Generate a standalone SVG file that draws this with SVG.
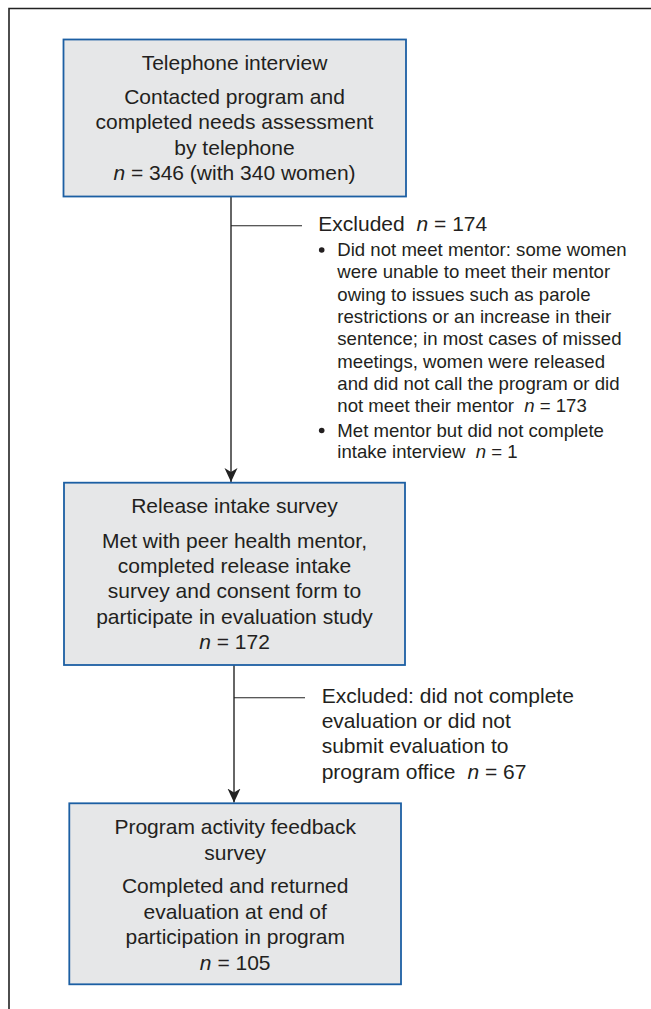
<svg xmlns="http://www.w3.org/2000/svg" width="651" height="1009" viewBox="0 0 651 1009">
<style>
  .box { fill: #e6e7e8; stroke: #1c5fa3; stroke-width: 1.8; }
  .t { font-family: "Liberation Sans", Arial, sans-serif; font-size: 21px; fill: #231f20; }
  .c { text-anchor: middle; }
  .s { font-family: "Liberation Sans", Arial, sans-serif; font-size: 18.6px; fill: #231f20; }
  .i { font-style: italic; }
  .conn { stroke: #333; stroke-width: 1.5; fill: none; }
  .branch { stroke: #222; stroke-width: 1.1; fill: none; }
  .frame { stroke: #222; stroke-width: 1.6; fill: none; }
  .dot { fill: #231f20; }
</style>
<defs>
  <marker id="arrow" markerUnits="userSpaceOnUse" viewBox="0 0 14 14" markerWidth="14" markerHeight="14" refX="14" refY="7" orient="auto">
    <path d="M0,0.5 L14,7 L0,13.5 L4,7 z" fill="#222"/>
  </marker>
</defs>
<rect x="0" y="0" width="651" height="1009" fill="#fff"/>
<path class="frame" d="M9,1009 V8.5 H651"/>

<g id="connectors">
  <line class="conn" x1="231" y1="197" x2="231" y2="482" marker-end="url(#arrow)"/>
  <line class="branch" x1="231" y1="225.7" x2="302" y2="225.7"/>
  <line class="conn" x1="234" y1="665" x2="234" y2="802.5" marker-end="url(#arrow)"/>
  <line class="branch" x1="234" y1="697.7" x2="305" y2="697.7"/>
</g>

<g id="node-telephone">
  <rect class="box" x="63.5" y="39.5" width="342.5" height="157"/>
  <text class="t c" x="234.5" y="70">Telephone interview</text>
  <text class="t c" x="234.5" y="104">Contacted program and</text>
  <text class="t c" x="234.5" y="129.4">completed needs assessment</text>
  <text class="t c" x="234.5" y="154.8">by telephone</text>
  <text class="t c" x="234.5" y="180.2"><tspan class="i">n</tspan> = 346 (with 340 women)</text>
</g>

<g id="excluded-1">
  <text class="t" x="318.3" y="230.7">Excluded <tspan dx="6" class="i">n</tspan> = 174</text>
  <circle class="dot" cx="321.7" cy="250" r="2.8"/>
  <text class="s" x="337.3" y="256">Did not meet mentor: some women</text>
  <text class="s" x="337.3" y="278.3">were unable to meet their mentor</text>
  <text class="s" x="337.3" y="300.6">owing to issues such as parole</text>
  <text class="s" x="337.3" y="322.9">restrictions or an increase in their</text>
  <text class="s" x="337.3" y="345.2">sentence; in most cases of missed</text>
  <text class="s" x="337.3" y="367.5">meetings, women were released</text>
  <text class="s" x="337.3" y="389.8">and did not call the program or did</text>
  <text class="s" x="337.3" y="412.1">not meet their mentor <tspan dx="5" class="i">n</tspan> = 173</text>
  <circle class="dot" cx="321.7" cy="430.5" r="2.8"/>
  <text class="s" x="337.3" y="436.7">Met mentor but did not complete</text>
  <text class="s" x="337.3" y="458.3">intake interview <tspan dx="5" class="i">n</tspan> = 1</text>
</g>

<g id="node-release">
  <rect class="box" x="64" y="482.7" width="341" height="182.3"/>
  <text class="t c" x="234.5" y="513.3">Release intake survey</text>
  <text class="t c" x="234.5" y="547.7">Met with peer health mentor,</text>
  <text class="t c" x="234.5" y="573">completed release intake</text>
  <text class="t c" x="234.5" y="598.3">survey and consent form to</text>
  <text class="t c" x="234.5" y="623.6">participate in evaluation study</text>
  <text class="t c" x="234.5" y="649"><tspan class="i">n</tspan> = 172</text>
</g>

<g id="excluded-2">
  <text class="t" x="321.7" y="702.7">Excluded: did not complete</text>
  <text class="t" x="321.7" y="728">evaluation or did not</text>
  <text class="t" x="321.7" y="753.3">submit evaluation to</text>
  <text class="t" x="321.7" y="778.5">program office <tspan dx="6" class="i">n</tspan> = 67</text>
</g>

<g id="node-feedback">
  <rect class="box" x="69.3" y="803.3" width="331.7" height="181"/>
  <text class="t c" x="235.2" y="834">Program activity feedback</text>
  <text class="t c" x="235.2" y="859.5">survey</text>
  <text class="t c" x="235.2" y="893">Completed and returned</text>
  <text class="t c" x="235.2" y="918.5">evaluation at end of</text>
  <text class="t c" x="235.2" y="944">participation in program</text>
  <text class="t c" x="235.2" y="969.5"><tspan class="i">n</tspan> = 105</text>
</g>
</svg>
